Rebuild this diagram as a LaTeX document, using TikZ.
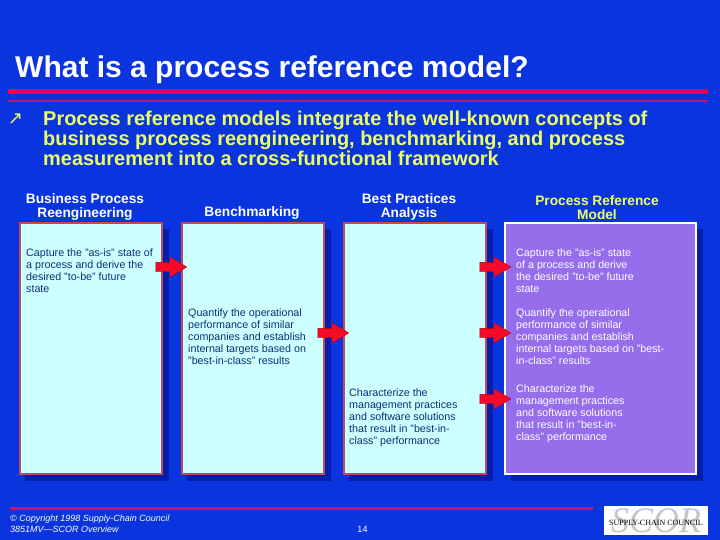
\documentclass[tikz,border=0pt]{standalone}
\usepackage{fontspec}
\setmainfont{Liberation Sans}
\newfontfamily\symfont{DejaVu Sans}
\newfontfamily\logofont{Liberation Serif}
\usetikzlibrary{shapes.arrows}
\definecolor{bg}{RGB}{10,52,222}
\definecolor{shade}{RGB}{3,30,170}
\definecolor{boxfill}{RGB}{204,255,255}
\definecolor{boxedge}{RGB}{196,72,88}
\definecolor{purplefill}{RGB}{150,110,235}
\definecolor{yel}{RGB}{236,255,100}
\definecolor{ink}{RGB}{16,44,120}
\definecolor{redthick}{RGB}{232,0,80}
\definecolor{redthin}{RGB}{195,20,105}
\definecolor{arrowred}{RGB}{245,10,40}
\tikzset{
 x=1pt,y=-1pt,
 panel/.style={draw=boxedge,line width=2pt,fill=boxfill,anchor=north west,inner sep=0pt,minimum height=250pt},
 panelshadow/.style={fill=shade,anchor=north west,inner sep=0pt,minimum height=252pt},
 head/.style={anchor=center,align=center,inner sep=0pt,text=white,font=\fontsize{13.7}{14}\selectfont\bfseries},
 bodytext/.style={anchor=north west,align=left,inner sep=0pt,text=ink,font=\fontsize{10.7}{12}\selectfont},
 whitetext/.style={bodytext,text=white},
 blockarrow/.style={single arrow,fill=arrowred,draw=red!70!black,line width=0.3pt,inner sep=0pt,minimum height=31pt,minimum width=20pt,single arrow head extend=5.5pt,single arrow tip angle=62},
}
\newcommand{\shaftgap}{\rule{0pt}{9pt}}
\begin{document}
\begin{tikzpicture}
\useasboundingbox (0,0) rectangle (720,540);
\fill[bg] (0,0) rectangle (720,540);
% title
\node[anchor=base west,inner sep=0pt,text=white,font=\fontsize{30}{32}\selectfont\bfseries] (title) at (15,77.5) {What is a process reference model?};
\fill[redthick] (8,89) rectangle (708,94);
\fill[redthin] (8,100) rectangle (708,102.5);
% bullet
\node[anchor=center,inner sep=0pt,text=yel,font=\fontsize{18}{18}\selectfont\symfont] (bullet) at (15.5,119) {↗};
\node[anchor=north west,align=left,inner sep=0pt,text=yel,font=\fontsize{19.95}{20}\selectfont\bfseries] (intro) at (43,111.2) {Process reference models integrate the well-known concepts of\\business process reengineering, benchmarking, and process\\measurement into a cross-functional framework};
% headers
\node[head] (h1) at (85,207.3) {Business Process\\Reengineering};
\node[head] (h2) at (252,212.5) {Benchmarking};
\node[head] (h3) at (409,207.3) {Best Practices\\Analysis};
\node[head,text=yel] (h4) at (597,207.3) {Process Reference\\Model};
% panels
\node[panelshadow,minimum width=144pt] (s1) at (25,229) {};
\node[panelshadow,minimum width=144pt] (s2) at (187,229) {};
\node[panelshadow,minimum width=144pt] (s3) at (349,229) {};
\node[panelshadow,minimum width=192pt] (s4) at (511,229) {};
\node[panel,minimum width=142pt] (p1) at (18.5,222.5) {};
\node[panel,minimum width=142pt] (p2) at (180.5,222.5) {};
\node[panel,minimum width=142pt] (p3) at (342.5,222.5) {};
\node[panel,minimum width=191pt,fill=purplefill,draw=white] (p4) at (504,222.5) {};
% panel text
\node[bodytext] (t1) at (26,248.8) {Capture the "as-is" state of\\a process and derive the\\desired "to-be" future\\state};
\node[bodytext] (t2) at (188,308.8) {Quantify the operational\\performance of similar\\companies and establish\\internal targets based on\\"best-in-class" results};
\node[bodytext] (t3) at (349,388.8) {Characterize the\\management practices\\and software solutions\\that result in "best-in-\\class" performance};
\node[whitetext] (t4) at (516,248.8) {Capture the "as-is" state\\of a process and derive\\the desired "to-be" future\\state};
\node[whitetext] (t5) at (516,308.8) {Quantify the operational\\performance of similar\\companies and establish\\internal targets based on "best-\\in-class" results};
\node[whitetext] (t6) at (516,384.8) {Characterize the\\management practices\\and software solutions\\that result in "best-in-\\class" performance};
% arrows
\node[blockarrow] (a1) at (167.5,267) {\shaftgap};
\node[blockarrow] (a2) at (329.5,333) {\shaftgap};
\node[blockarrow] (a3) at (491.5,267) {\shaftgap};
\node[blockarrow] (a4) at (491.5,333) {\shaftgap};
\node[blockarrow] (a5) at (491.5,399) {\shaftgap};
% footer
\fill[redthin] (10,507) rectangle (593,510);
\node[anchor=north west,align=left,inner sep=0pt,text=white,font=\fontsize{9}{11}\selectfont\itshape] (foot) at (10,515) {© Copyright 1998 Supply-Chain Council\\3851MV—SCOR Overview};
\node[anchor=center,inner sep=0pt,text=white,font=\fontsize{9}{10}\selectfont] (page) at (362.5,529) {14};
% logo
\node[fill=white,anchor=north west,inner sep=0pt,minimum width=104pt,minimum height=29pt] (logo) at (604,506) {};
\node[anchor=base,inner sep=0pt,text=gray!45,font=\fontsize{36}{36}\selectfont\logofont\itshape] (scor) at (656,532.5) {SCOR};
\node[anchor=center,inner sep=0pt,text=black,font=\fontsize{8}{8}\selectfont\logofont] (sc) at (656,523) {SUPPLY-CHAIN COUNCIL};
\end{tikzpicture}
\end{document}
